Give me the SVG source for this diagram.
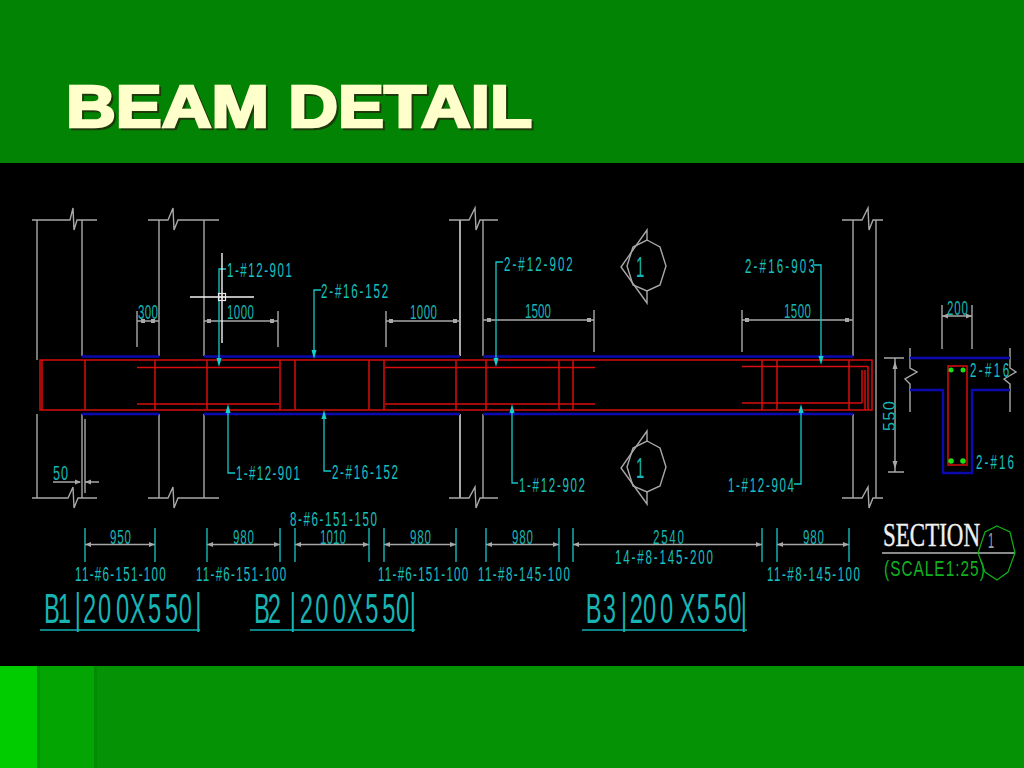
<svg xmlns="http://www.w3.org/2000/svg" width="1024" height="768" viewBox="0 0 1024 768">
<style>
.g{stroke:#a8a8a8;stroke-width:1.4;fill:none}
.w{stroke:#f0f0f0;stroke-width:1.4;fill:none}
.r{stroke:#d80c0c;stroke-width:1.5;fill:none}
.b{stroke:#0a0ab0;stroke-width:2.400;fill:none}
.l{stroke:#14c8c8;stroke-width:1.3;fill:none}
.u{stroke:#12b0b0;stroke-width:1.5;fill:none}
text{font-family:"Liberation Sans",Arial,sans-serif}
.t{fill:#18c0c0;font-size:21px}
.d{fill:#18b4b4;font-size:21px}
.big{fill:#18b4b4;font-size:43px}
.tick{fill:#a8a8a8}
</style>
<defs>
<rect id="sq" x="-2" y="-2" width="4" height="4" class="tick"/>
<path id="ar" d="M0 0L6-2.500V2.500Z" class="tick"/>
<path id="al" d="M0 0L-6-2.500V2.500Z" class="tick"/>
<path id="ad" d="M0 0L-2.500-9H2.500Z" fill="#14d0d0"/>
<path id="au" d="M0 0L-2.500 9H2.500Z" fill="#14d0d0"/>
<g id="mk">
<path d="M647 240L660 247 666 266 660 285 647 291 633 285 627 266 633 247Z" class="g"/>
<path d="M647 240V230L621 267 647 303V291" class="g"/>
</g>
</defs>

<rect width="1024" height="768" fill="#059305"/>
<rect width="1024" height="163" fill="#038303"/>
<rect x="0" y="666" width="37" height="102" fill="#00cc00"/>
<rect x="37" y="666" width="59" height="102" fill="#03a503"/>
<rect x="37" y="666" width="3" height="102" fill="#029402"/>
<rect x="94" y="666" width="3" height="102" fill="#028a02"/>
<rect y="163" width="1024" height="503" fill="#000"/>

<g id="title" font-weight="700" font-size="60" stroke-width="2.600" stroke-linejoin="miter">
<text x="68" y="128.500" fill="#1c3a0c" stroke="#1c3a0c" textLength="466" lengthAdjust="spacingAndGlyphs">BEAM DETAIL</text>
<text x="66" y="126.500" fill="#ffffcc" stroke="#ffffcc" textLength="466" lengthAdjust="spacingAndGlyphs">BEAM DETAIL</text>
</g>

<g id="columns">
<path class="g" d="M37 220V360M37 414V498M82 220V356M82 414V498M159 220V356M159 414V498M204 220V356M204 414V498M483 220V356M483 414V498M853 220V356M853 414V498M876 220V498"/>
<path class="w" d="M460 220V356M460 414V498"/>
<path class="g" d="M32 220H70L73 208 74 230 77 220H97M148 220H168L173 208 174 230 178 220H219M449 220H469L475 208 476 230 480 220H498M842 220H862L868 208 869 230 873 220H883"/>
<path class="g" d="M32 498H68L73 487 74 508 78 498H97M148 498H168L173 487 174 508 178 498H219M449 498H469L475 487 476 508 480 498H498M842 498H862L868 487 869 508 873 498H883"/>
</g>

<g id="beam">
<path class="b" d="M82 356.500H159M204 356.500H460M483 356.500H853M82 414H159M204 414H460M483 414H853"/>
<path class="r" d="M40 360H872V410H40ZM42 360V410M868 366V410M865 370V410M862 370V403"/>
<path class="r" d="M137 367.500H279M385 367.500H595M742 366.500H868M137 404H279M385 404H595M742 403H862"/>
<path class="r" d="M85 360V410M155 360V410M207 360V410M280 360V410M295 360V410M369 360V410M384 360V410M456 360V410M486 360V410M559 360V410M573 360V410M762 360V410M777 360V410M849 360V410"/>
</g>

<g id="top-dims">
<path class="g" d="M137 321H159M137 311V347M204 321H278M278 311V347M386 321H460M386 311V347M483 320H594M594 310V352M742 320H853M742 310V352"/>
<use href="#sq" x="143" y="321"/><use href="#sq" x="153" y="321"/>
<use href="#sq" x="209" y="321"/><use href="#sq" x="272" y="321"/>
<use href="#sq" x="391" y="321"/><use href="#sq" x="455" y="321"/>
<use href="#sq" x="489" y="320"/><use href="#sq" x="589" y="320"/>
<use href="#sq" x="747" y="320"/><use href="#sq" x="847" y="320"/>
<text class="d" transform="translate(138 319) scale(.55 1)" textLength="36" lengthAdjust="spacing">300</text>
<text class="d" transform="translate(227 319) scale(.55 1)" textLength="49" lengthAdjust="spacing">1000</text>
<text class="d" transform="translate(410 319) scale(.55 1)" textLength="49" lengthAdjust="spacing">1000</text>
<text class="d" transform="translate(525 318) scale(.55 1)" textLength="47" lengthAdjust="spacing">1500</text>
<text class="d" transform="translate(784 318) scale(.55 1)" textLength="49" lengthAdjust="spacing">1500</text>
</g>

<g id="connectors">
<path class="l" d="M226 269H219V358M321 290H314V350M503 262H496V358M814 265H821V356M235 473H228V412M331 471H324V418M518 483H512V412M794 484H801V412"/>
<use href="#ad" x="219" y="367"/><use href="#ad" x="314" y="359"/><use href="#ad" x="496" y="367"/><use href="#ad" x="821" y="365"/>
<use href="#au" x="228" y="404"/><use href="#au" x="324" y="410"/><use href="#au" x="512" y="404"/><use href="#au" x="801" y="404"/>
</g>

<g id="leader-labels">
<text class="t" transform="translate(227 277) scale(.55 1)" textLength="118" lengthAdjust="spacing">1-#12-901</text>
<text class="t" transform="translate(321 298) scale(.55 1)" textLength="122" lengthAdjust="spacing">2-#16-152</text>
<text class="t" transform="translate(504 271) scale(.55 1)" textLength="125" lengthAdjust="spacing">2-#12-902</text>
<text class="t" transform="translate(745 273) scale(.55 1)" textLength="127" lengthAdjust="spacing">2-#16-903</text>
<text class="t" transform="translate(236 480) scale(.55 1)" textLength="116" lengthAdjust="spacing">1-#12-901</text>
<text class="t" transform="translate(332 479) scale(.55 1)" textLength="120" lengthAdjust="spacing">2-#16-152</text>
<text class="t" transform="translate(519 492) scale(.55 1)" textLength="120" lengthAdjust="spacing">1-#12-902</text>
<text class="t" transform="translate(728 492) scale(.55 1)" textLength="120" lengthAdjust="spacing">1-#12-904</text>
</g>

<g id="cursor">
<path d="M222 253V343M190 297H254" stroke="#f4f4f4" stroke-width="1.400" fill="none"/>
<rect x="218.500" y="293.500" width="7" height="7" fill="none" stroke="#e8e8e8" stroke-width="1.200"/>
<path d="M218.500 297H225.500M222 293.500V300.500" stroke="#e8e8e8" stroke-width=".8"/>
</g>

<g id="section-mark-top">
<use href="#mk"/>
<text class="d" transform="translate(636 277) scale(.5 1)" style="font-size:30px">1</text>
</g>
<g id="section-mark-bottom">
<use href="#mk" y="201"/>
<text class="d" transform="translate(636 478) scale(.5 1)" style="font-size:30px">1</text>
</g>

<g id="dim-50">
<path class="g" d="M53 482H80M85 482H99M85 419V493"/>
<use href="#al" x="81" y="482"/><use href="#ar" x="85" y="482"/>
<text class="d" transform="translate(53 480) scale(.6 1)" textLength="25" lengthAdjust="spacing">50</text>
</g>

<g id="stirrup-dims">
<path class="g" d="M85 544.500H155M207 544.500H280M295 544.500H369M384 544.500H456M486 544.500H559M573 544.500H762M777 544.500H849"/>
<path class="l" d="M85 528V562M155 528V562M207 528V562M280 528V562M295 528V562M369 528V562M384 528V562M456 528V562M486 528V562M559 528V562M573 528V562M762 528V562M777 528V562M849 528V562"/>
<use href="#ar" x="85" y="544.500"/><use href="#al" x="155" y="544.500"/>
<use href="#ar" x="207" y="544.500"/><use href="#al" x="280" y="544.500"/>
<use href="#ar" x="295" y="544.500"/><use href="#al" x="369" y="544.500"/>
<use href="#ar" x="384" y="544.500"/><use href="#al" x="456" y="544.500"/>
<use href="#ar" x="486" y="544.500"/><use href="#al" x="559" y="544.500"/>
<use href="#ar" x="573" y="544.500"/><use href="#al" x="762" y="544.500"/>
<use href="#ar" x="777" y="544.500"/><use href="#al" x="849" y="544.500"/>
<text class="d" transform="translate(110 544) scale(.55 1)" textLength="38" lengthAdjust="spacing">950</text>
<text class="d" transform="translate(233 544) scale(.55 1)" textLength="38" lengthAdjust="spacing">980</text>
<text class="d" transform="translate(320 544) scale(.55 1)" textLength="47" lengthAdjust="spacing">1010</text>
<text class="d" transform="translate(410 544) scale(.55 1)" textLength="38" lengthAdjust="spacing">980</text>
<text class="d" transform="translate(512 544) scale(.55 1)" textLength="38" lengthAdjust="spacing">980</text>
<text class="d" transform="translate(653 544) scale(.55 1)" textLength="56" lengthAdjust="spacing">2540</text>
<text class="d" transform="translate(803 544) scale(.55 1)" textLength="38" lengthAdjust="spacing">980</text>
<text class="t" transform="translate(75 581) scale(.55 1)" textLength="165" lengthAdjust="spacing">11-#6-151-100</text>
<text class="t" transform="translate(196 581) scale(.55 1)" textLength="164" lengthAdjust="spacing">11-#6-151-100</text>
<text class="t" transform="translate(290 526) scale(.55 1)" textLength="158" lengthAdjust="spacing">8-#6-151-150</text>
<text class="t" transform="translate(378 581) scale(.55 1)" textLength="164" lengthAdjust="spacing">11-#6-151-100</text>
<text class="t" transform="translate(478 581) scale(.55 1)" textLength="167" lengthAdjust="spacing">11-#8-145-100</text>
<text class="t" transform="translate(615 564) scale(.55 1)" textLength="178" lengthAdjust="spacing">14-#8-145-200</text>
<text class="t" transform="translate(767 581) scale(.55 1)" textLength="169" lengthAdjust="spacing">11-#8-145-100</text>
</g>

<g id="beam-titles">
<text class="big" transform="translate(0 623) scale(.55 1)" x="80 105 136 151 178 211 236 269 300 325 355">B1|200X550|</text>
<text class="big" transform="translate(0 623) scale(.55 1)" x="462 487 527 545 573 605 631 664 695 720 745">B2|200X550|</text>
<text class="big" transform="translate(0 623) scale(.55 1)" x="1065 1096 1129 1145 1169 1200 1236 1267 1298 1324 1347">B3|200X550|</text>
<path class="u" d="M40 630H200M250 630H415M582 630H747"/>
</g>

<g id="section">
<path class="g" d="M942 305V349M972 305V349M942 316H972M895 358V472M884 358H904M888 472H904"/>
<use href="#ar" x="942" y="316"/><use href="#al" x="972" y="316"/>
<path class="tick" d="M895 361L892.500 369H897.500ZM895 469L892.500 461H897.500Z"/>
<text class="d" transform="translate(947 315) scale(.55 1)" textLength="38" lengthAdjust="spacing">200</text>
<text class="d" transform="translate(895 431) rotate(-90)" textLength="30" lengthAdjust="spacing" style="font-size:16px">550</text>
<path class="g" d="M910 348V368L917 372 905 379 910 384V412M1010 348V368L1016 372 1004 379 1010 384V412"/>
<path class="b" d="M910 358H1010M910 390H943V473H972V390H1010"/>
<rect x="948" y="366" width="19" height="99" fill="none" stroke="#d80c0c" stroke-width="1.500"/>
<g fill="#18e018"><circle cx="951" cy="370" r="2.500"/><circle cx="963" cy="370" r="2.500"/><circle cx="951" cy="461" r="2.800"/><circle cx="963" cy="461" r="2.800"/></g>
<text class="t" transform="translate(970 377) scale(.55 1)" textLength="71" lengthAdjust="spacing">2-#16</text>
<text class="t" transform="translate(976 469) scale(.55 1)" textLength="69" lengthAdjust="spacing">2-#16</text>
<text x="883" y="546" textLength="97" lengthAdjust="spacingAndGlyphs" stroke="#f0f0f0" stroke-width=".4" style="font-family:'Liberation Serif',serif;font-size:34px" fill="#f0f0f0">SECTION</text>
<path d="M882 553H1015" stroke="#b8b8b8" stroke-width="1.500"/>
<text transform="translate(884 576) scale(.7 1)" textLength="144" lengthAdjust="spacing" style="font-size:22px" fill="#12b020">(SCALE1:25)</text>
<path d="M997 526L1010 532 1015 553 1008 572 997 580 985 572 978 553 985 532Z" fill="none" stroke="#10b018" stroke-width="1.200"/>
<text transform="translate(988 548) scale(.5 1)" style="font-size:22px" fill="#a0a0a0">1</text>
</g>
</svg>
